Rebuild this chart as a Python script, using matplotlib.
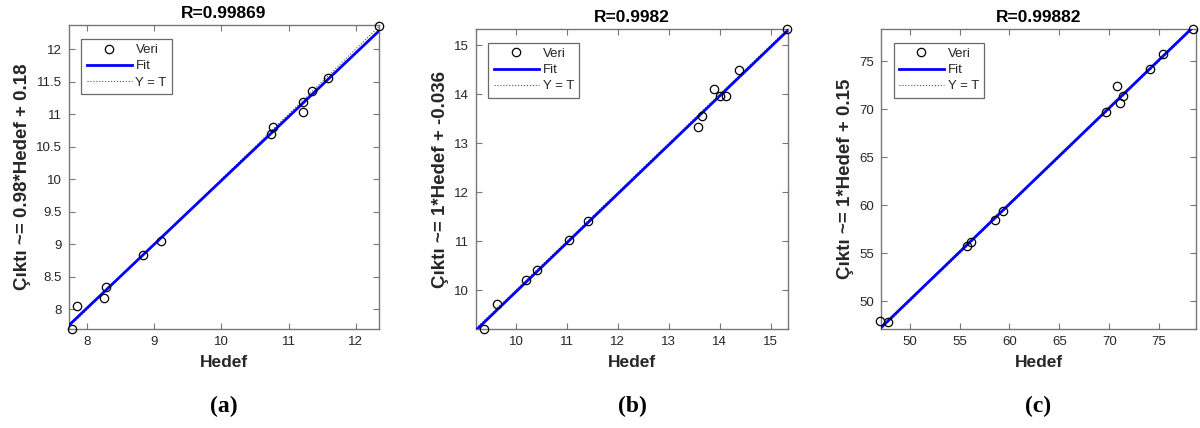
import numpy as np
import matplotlib.pyplot as plt

plt.rcParams['font.family'] = ['Liberation Sans', 'DejaVu Sans']

# panel (a)
hedef_a = [7.77, 7.85, 8.25, 8.28, 8.83, 9.10, 10.74, 10.77, 11.21, 11.21, 11.35, 11.59, 12.35]
cikti_a = [7.70, 8.04, 8.17, 8.34, 8.83, 9.05, 10.70, 10.81, 11.03, 11.18, 11.35, 11.55, 12.36]
# panel (b)
hedef_b = [9.37, 9.63, 10.19, 10.41, 11.04, 11.41, 13.58, 13.66, 13.88, 14.00, 14.13, 14.37, 15.33]
cikti_b = [9.21, 9.71, 10.21, 10.41, 11.02, 11.40, 13.32, 13.56, 14.10, 13.97, 13.97, 14.50, 15.33]
# panel (c)
hedef_c = [47.02, 47.82, 55.79, 56.19, 58.54, 59.34, 69.65, 70.79, 71.09, 71.43, 74.10, 75.41, 78.36]
cikti_c = [47.92, 47.82, 55.75, 56.20, 58.52, 59.42, 69.74, 72.44, 70.64, 71.43, 74.17, 75.80, 78.36]

slopes = [0.98, 1.0, 1.0]
intercepts = [0.18, -0.036, 0.15]
r_values = ["0.99869", "0.9982", "0.99882"]
ylabels = ["Çıktı ~= 0.98*Hedef + 0.18",
           "Çıktı ~= 1*Hedef + -0.036",
           "Çıktı ~= 1*Hedef + 0.15"]
panel_tags = ["(a)", "(b)", "(c)"]
xlims = [(7.726, 12.349), (9.217, 15.34), (47.12, 78.7)]
ylims = [(7.693, 12.373), (9.205, 15.33), (47.13, 78.36)]
xticks = [[8, 9, 10, 11, 12], [10, 11, 12, 13, 14, 15], [50, 55, 60, 65, 70, 75]]
yticks = [[8, 8.5, 9, 9.5, 10, 10.5, 11, 11.5, 12],
          [10, 11, 12, 13, 14, 15],
          [50, 55, 60, 65, 70, 75]]

W, H = 1200, 428
# axes boxes in pixels: left, right, top, bottom
boxes = [(69, 379, 25, 329), (476, 788, 29, 329), (881, 1196, 29, 329)]

fig = plt.figure(figsize=(12, 4.28), dpi=100)

data = [(hedef_a, cikti_a), (hedef_b, cikti_b), (hedef_c, cikti_c)]
frame_col = '#777777'
text_col = '#262626'

for i, (t, y) in enumerate(data):
    l, r, top, bot = boxes[i]
    ax = fig.add_axes([l / W, (H - bot) / H, (r - l) / W, (bot - top) / H])
    x0, x1 = xlims[i]
    xs = np.array([x0, x1])
    ax.plot(t, y, 'o', mfc='none', mec='black', ms=6, mew=0.9,
            label='Veri', clip_on=False, zorder=4)
    ax.plot(xs, slopes[i] * xs + intercepts[i], color='#0000ff', lw=2.0,
            label='Fit', zorder=3)
    ax.plot(xs, xs, ':', color='#555555', lw=0.8, label='Y = T', zorder=2)
    ax.set_xlim(xlims[i])
    ax.set_ylim(ylims[i])
    ax.set_xticks(xticks[i])
    ax.set_yticks(yticks[i])
    ax.set_yticklabels([f"{v:g}" for v in yticks[i]])
    ax.tick_params(direction='in', top=True, right=True, length=4,
                   width=0.8, color=frame_col, labelsize=9.5,
                   labelcolor=text_col, pad=5)
    for s in ax.spines.values():
        s.set_color(frame_col)
        s.set_linewidth(1.0)
    ax.set_title("R=" + r_values[i], fontsize=12.5, fontweight='bold',
                 color='black', pad=5)
    ax.set_xlabel("Hedef", fontsize=12.5, fontweight='bold', color=text_col,
                  labelpad=5)
    ax.set_ylabel(ylabels[i], fontsize=13.5, fontweight='bold', color=text_col,
                  labelpad=4)
    leg = ax.legend(loc='upper left', bbox_to_anchor=(0.04, 0.955),
                    fontsize=9.5, frameon=True, fancybox=False,
                    handlelength=3.4, handletextpad=0.3, borderpad=0.4,
                    labelspacing=0.3, borderaxespad=0)
    leg.get_frame().set_edgecolor('#444444')
    leg.get_frame().set_linewidth(0.9)
    for txt in leg.get_texts():
        txt.set_color(text_col)
    fig.text((l + r) / 2 / W, 1 - 406 / H, panel_tags[i], ha='center',
             va='center', fontsize=17, fontweight='bold',
             family='Liberation Serif')

fig.savefig("out.png", dpi=100)
